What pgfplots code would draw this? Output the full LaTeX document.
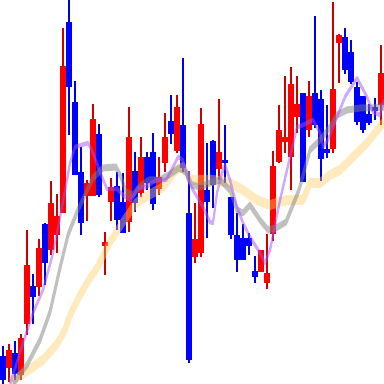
\documentclass[border=0pt]{standalone}
\usepackage{pgfplots}
\usepackage{pgfplotstable}
\pgfplotsset{compat=1.18}
\definecolor{upbody}{HTML}{FF0000}
\definecolor{upwick}{HTML}{CC0000}
\definecolor{dnbody}{HTML}{0000FF}
\definecolor{dnwick}{HTML}{0000E6}
\definecolor{maS}{HTML}{A151FF}
\definecolor{maM}{HTML}{818181}
\definecolor{maL}{HTML}{FFCD61}
\pgfplotstableread{
x o h l c
9 16 40 2 34
21 9 50 4 46
27 60 154 49 119
39 97 145 88 136
51 134 203 129 181
57 149 190 131 168
63 171 356 171 318
87 188 204 163 201
93 188 280 188 265
105 138 152 109 142
111 182 206 163 197
129 162 277 152 247
141 191 247 187 227
159 195 227 189 207
165 221 271 212 247
177 233 289 231 277
195 127 181 121 145
201 131 276 127 260
219 215 285 204 232
261 112 134 112 134
267 101 150 95 111
273 150 233 143 218
279 222 279 221 254
285 242 308 231 247
291 227 317 194 300
297 267 308 251 280
309 254 303 247 288
333 235 382 231 295
339 341 350 301 349
381 279 339 259 311
}\updata
\pgfplotstableread{
x o h l c
3 28 38 0 4
15 31 43 4 10
33 98 110 60 87
45 160 161 99 121
69 362 384 249 297
75 282 303 209 209
81 212 237 149 161
99 250 260 187 189
117 198 212 154 164
123 182 211 151 151
135 213 232 172 181
147 227 232 194 201
153 232 251 174 180
171 263 289 240 250
183 259 326 212 216
189 171 213 21 24
207 194 241 146 182
213 243 244 176 199
225 224 259 201 221
231 187 187 145 149
237 149 171 112 124
243 146 160 124 124
249 146 151 129 138
255 113 128 101 107
303 291 291 202 202
315 291 368 256 259
321 285 294 203 225
327 235 279 226 231
345 347 356 310 314
351 332 344 300 302
357 297 302 259 262
363 288 288 251 254
369 270 280 259 261
375 277 286 264 273
}\dndata
\begin{document}
\begin{tikzpicture}
\begin{axis}[
  width=384pt, height=384pt, scale only axis,
  xmin=0, xmax=384, ymin=0, ymax=384,
  hide axis, clip=true,
]
% wicks
\addplot[draw=none, mark=none, forget plot,
  error bars/.cd, y dir=both, y explicit, error mark=none,
  error bar style={draw=upwick, line width=2pt}]
  table[x=x, y expr={(\thisrow{h}+\thisrow{l})/2}, y error expr={(\thisrow{h}-\thisrow{l})/2}] {\updata};
\addplot[draw=none, mark=none, forget plot,
  error bars/.cd, y dir=both, y explicit, error mark=none,
  error bar style={draw=dnwick, line width=2pt}]
  table[x=x, y expr={(\thisrow{h}+\thisrow{l})/2}, y error expr={(\thisrow{h}-\thisrow{l})/2}] {\dndata};
% bodies
\addplot[draw=none, mark=none, forget plot,
  error bars/.cd, y dir=both, y explicit, error mark=none,
  error bar style={draw=upbody, line width=6pt}]
  table[x=x, y expr={(\thisrow{o}+\thisrow{c})/2}, y error expr={max(abs(\thisrow{c}-\thisrow{o})/2,1.2)}] {\updata};
\addplot[draw=none, mark=none, forget plot,
  error bars/.cd, y dir=both, y explicit, error mark=none,
  error bar style={draw=dnbody, line width=6pt}]
  table[x=x, y expr={(\thisrow{o}+\thisrow{c})/2}, y error expr={max(abs(\thisrow{c}-\thisrow{o})/2,1.2)}] {\dndata};
% moving averages (strokes narrower horizontally than vertically, as in the reference)
\addplot[maL, opacity=0.42, line width=10pt, mark=none, line join=round,
  x filter/.expression={2*x}, transform canvas={xscale=0.5}] coordinates {
(10,1)(27,13)(43,24)(57,40)(65,54)(70,69)(80,89)(90,106)(97,116)(110,142)(123,162)(136,181)(149,189)(163,197)(176,214)(183,217)(191,204)(200,204)(213,204)(230,201)(243,194)(257,184)(270,179)(287,184)(303,184)(310,201)(320,201)(330,209)(340,214)(353,227)(367,241)(380,257)(384,262)};
\addplot[maM, opacity=0.5, line width=7pt, mark=none, line join=round,
  x filter/.expression={2.5*x}, transform canvas={xscale=0.4}] coordinates {
(13,0)(27,19)(40,44)(50,72)(60,116)(68,149)(77,172)(85,189)(93,206)(103,216)(116,217)(121,207)(126,192)(133,189)(139,197)(149,204)(159,204)(169,209)(179,216)(186,212)(192,199)(200,197)(210,201)(220,204)(230,194)(237,174)(243,171)(250,179)(260,164)(268,154)(276,156)(286,162)(299,194)(310,234)(320,244)(330,257)(337,269)(347,274)(360,276)(370,276)(384,277)};
\addplot[maS, opacity=0.5, line width=4.5pt, mark=none, line join=round,
  x filter/.expression={2*x}, transform canvas={xscale=0.5}] coordinates {
(10,0)(25,47)(33,71)(43,94)(52,127)(57,151)(62,177)(67,204)(70,221)(75,237)(88,241)(93,231)(100,212)(107,195)(117,195)(124,188)(131,184)(138,196)(146,197)(156,204)(166,204)(173,217)(178,227)(183,224)(188,204)(193,194)(203,177)(210,162)(213,161)(217,191)(222,211)(225,219)(230,204)(237,177)(243,161)(250,147)(260,131)(265,121)(270,134)(280,184)(290,227)(297,257)(303,259)(313,264)(320,251)(323,237)(328,244)(337,267)(345,287)(357,306)(367,287)(373,272)(380,269)(384,284)};
\end{axis}
\pgfresetboundingbox
\path (current axis.south west) rectangle (current axis.north east);
\end{tikzpicture}
\end{document}
